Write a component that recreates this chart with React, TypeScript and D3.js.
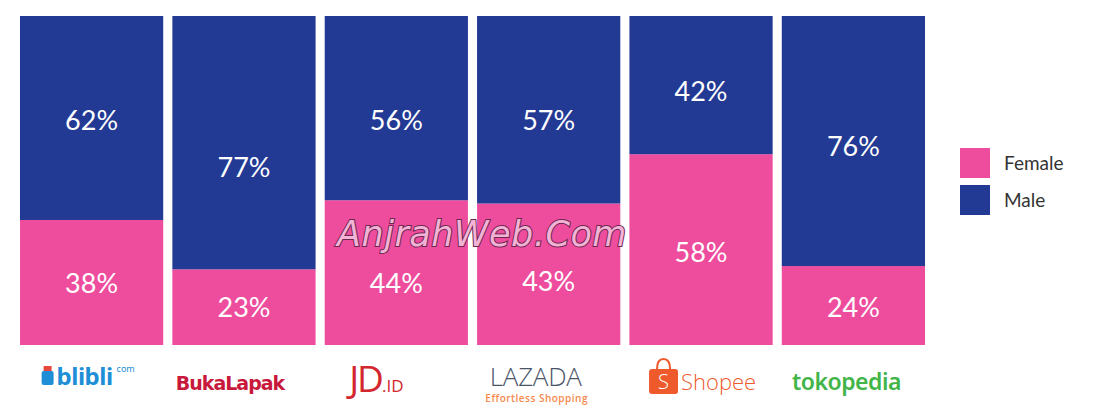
import * as d3 from "d3";
import { useEffect, useRef } from "react";

const platforms = ["blibli", "Bukalapak", "JD.ID", "Lazada", "Shopee", "Tokopedia"];
const female = [38, 23, 44, 43, 58, 24];
const male = [62, 77, 56, 57, 42, 76];
const seriesNames = ["Female", "Male"];
const seriesColors = ["#ee4d9e", "#233a95"];

// label placement in the original is hand-tuned, not exactly centred
const labelShift: Record<string, number[]> = {
  Female: [1, 0, 11, 7, 3, 2],
  Male: [2, 25, 12, 11, 6, 5],
};

export default function App() {
  const svgRef = useRef<SVGSVGElement>(null);

  useEffect(() => {
    const w = 1094;
    const h = 415;
    const svg = d3.select(svgRef.current).attr("width", w).attr("height", h);
    svg.selectAll("*").remove();

    const font = "Lato, 'Open Sans', sans-serif";

    const x = d3.scaleBand().domain(platforms).range([20, 925]).paddingInner(0.06);
    const y = d3.scaleLinear().domain([0, 100]).range([345, 16]);

    const rows = platforms.map((p, i) => ({ name: p, Female: female[i], Male: male[i] }));
    const stack = d3.stack<any>().keys(seriesNames)(rows);

    const g = svg.append("g");
    stack.forEach((layer, li) => {
      const key = seriesNames[li];
      g.selectAll(null)
        .data(layer)
        .enter()
        .append("rect")
        .attr("x", (d: any) => x(d.data.name)!)
        .attr("width", x.bandwidth())
        .attr("y", (d) => y(d[1]))
        .attr("height", (d) => y(d[0]) - y(d[1]))
        .attr("fill", seriesColors[li]);

      g.selectAll(null)
        .data(layer)
        .enter()
        .append("text")
        .attr("x", (d: any) => x(d.data.name)! + x.bandwidth() / 2)
        .attr("y", (d, i) => (y(d[0]) + y(d[1])) / 2 + labelShift[key][i])
        .attr("dy", "0.36em")
        .attr("text-anchor", "middle")
        .attr("fill", "#fff")
        .style("font-family", font)
        .style("font-size", "27px")
        .text((d) => `${d[1] - d[0]}%`);
    });

    // legend
    const lg = svg.append("g").attr("transform", "translate(960,148)");
    seriesNames.forEach((s, i) => {
      lg.append("rect")
        .attr("x", 0)
        .attr("y", i * 37)
        .attr("width", 30)
        .attr("height", 30)
        .attr("fill", seriesColors[i]);
      lg.append("text")
        .attr("x", 44)
        .attr("y", i * 37 + 15)
        .attr("dy", "0.35em")
        .attr("fill", "#333")
        .style("font-family", font)
        .style("font-size", "19px")
        .text(s);
    });

    // logos drawn as text
    const cx = (p: string) => x(p)! + x.bandwidth() / 2;
    const ly = 382;

    // blibli
    const bl = svg.append("g").attr("transform", `translate(${cx("blibli") - 2},${ly})`);
    bl.append("rect").attr("x", -48).attr("y", -11).attr("width", 12).attr("height", 14).attr("rx", 2).attr("fill", "#1e8fd6");
    bl.append("rect").attr("x", -46).attr("y", -16).attr("width", 8).attr("height", 5).attr("fill", "#e8483b");
    bl.append("text").attr("x", -33).attr("y", 3).attr("fill", "#1e8fd6")
      .style("font-family", "'Noto Sans', sans-serif").style("font-weight", "700").style("font-size", "24px")
      .style("letter-spacing", "-0.5px").text("blibli");
    bl.append("text").attr("x", 27).attr("y", -10).attr("fill", "#1e8fd6")
      .style("font-family", "'Noto Sans', sans-serif").style("font-size", "9px").text("com");

    // Bukalapak
    svg.append("text").attr("x", cx("Bukalapak") - 14).attr("y", ly + 8).attr("text-anchor", "middle")
      .attr("fill", "#c8193c").style("font-family", "'DejaVu Sans', sans-serif").style("font-weight", "700")
      .style("font-size", "19px").style("letter-spacing", "-1px").text("BukaLapak");

    // JD.ID
    const jd = svg.append("text").attr("x", cx("JD.ID") - 20).attr("y", ly + 10).attr("text-anchor", "middle")
      .attr("fill", "#d3262d").style("font-family", "'Open Sans', sans-serif");
    jd.append("tspan").style("font-size", "37px").style("letter-spacing", "-2px").text("JD");
    jd.append("tspan").style("font-size", "17px").text(".ID");

    // Lazada
    svg.append("text").attr("x", cx("Lazada") - 13).attr("y", ly + 4).attr("text-anchor", "middle")
      .attr("fill", "#4a5469").style("font-family", "'Open Sans', sans-serif").style("font-size", "26px")
      .style("font-weight", "300").style("letter-spacing", "-0.3px").text("LAZADA");
    svg.append("text").attr("x", cx("Lazada") - 12).attr("y", ly + 20).attr("text-anchor", "middle")
      .attr("fill", "#f5894a").style("font-family", "'Open Sans', sans-serif").style("font-size", "10px")
      .style("font-weight", "600").style("letter-spacing", "0.5px").text("Effortless Shopping");

    // Shopee
    const sh = svg.append("g").attr("transform", `translate(${cx("Shopee")},${ly})`);
    sh.append("rect").attr("x", -52).attr("y", -13).attr("width", 29).attr("height", 25).attr("rx", 3).attr("fill", "#ee5a2c");
    sh.append("path").attr("d", "M-44,-13 Q-44,-23 -37.5,-23 Q-31,-23 -31,-13").attr("fill", "none")
      .attr("stroke", "#ee5a2c").attr("stroke-width", 2);
    sh.append("text").attr("x", -37.5).attr("y", 7).attr("text-anchor", "middle").attr("fill", "#fff")
      .style("font-family", "'Open Sans', sans-serif").style("font-size", "20px").style("font-weight", "300").text("S");
    sh.append("text").attr("x", -20).attr("y", 8).attr("fill", "#ee5a2c")
      .style("font-family", "'Open Sans', sans-serif").style("font-size", "22px").style("font-weight", "300").text("Shopee");

    // Tokopedia
    svg.append("text").attr("x", cx("Tokopedia") - 7).attr("y", ly + 8).attr("text-anchor", "middle")
      .attr("fill", "#42b549").style("font-family", "'Noto Sans', sans-serif").style("font-weight", "600")
      .style("font-size", "23px").style("letter-spacing", "-0.5px").text("tokopedia");

    // watermark
    svg.append("text").attr("x", 482).attr("y", 246).attr("text-anchor", "middle")
      .attr("fill", "#f2b3d6").attr("stroke", "#6e2850").attr("stroke-width", 2)
      .style("paint-order", "stroke").style("font-family", "'DejaVu Sans', sans-serif")
      .style("font-style", "italic").style("font-size", "35px").style("letter-spacing", "0.5px")
      .text("AnjrahWeb.Com");
  }, []);

  return <svg ref={svgRef} style={{ display: "block", margin: "-8px" }}></svg>;
}
